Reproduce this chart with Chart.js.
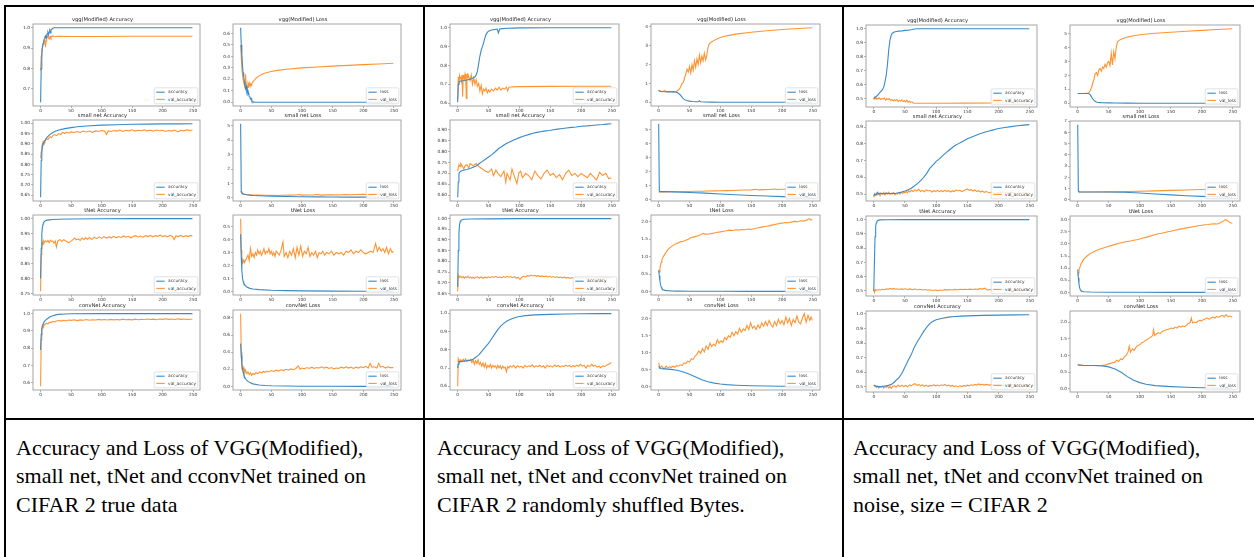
<!DOCTYPE html>
<html>
<head>
<meta charset="utf-8">
<script src="https://cdn.jsdelivr.net/npm/chart.js@4.4.0/dist/chart.umd.min.js"></script>
<style>
  body { margin: 0; background: #fff; width: 1254px; height: 557px; overflow: hidden; position: relative; }
  .rule { position: absolute; background: #000; }
  .cap { position: absolute; top: 434px; font-family: "Liberation Serif", "Times New Roman", serif; font-size: 22px; line-height: 28.3px; color: #000; white-space: nowrap; }
  canvas { position: absolute; }
</style>
</head>
<body>
<div class="rule" style="left:4px;top:5px;width:1250px;height:2px"></div>
<div class="rule" style="left:4px;top:5px;width:2px;height:552px"></div>
<div class="rule" style="left:423px;top:5px;width:2px;height:552px"></div>
<div class="rule" style="left:842px;top:5px;width:2px;height:552px"></div>
<div class="rule" style="left:4px;top:418px;width:1250px;height:2px"></div>

<div class="cap" style="left:16px">Accuracy and Loss of VGG(Modified),<br>small net, tNet and cconvNet trained on<br>CIFAR 2 true data</div>
<div class="cap" style="left:437px">Accuracy and Loss of VGG(Modified),<br>small net, tNet and cconvNet trained on<br>CIFAR 2 randomly shuffled Bytes.</div>
<div class="cap" style="left:853px">Accuracy and Loss of VGG(Modified),<br>small net, tNet and cconvNet trained on<br>noise, size = CIFAR 2</div>

<script>
// [epoch, value] pairs

// ---- CIFAR 2 true data ----
const trueVggAcc = [[0,.635],[1,.80],[2,.87],[3,.90],[4,.92],[5,.935],[6,.945],[7,.955],[8,.96],[9,.95],[10,.965],[11,.97],[12,.975],[13,.965],[14,.98],[15,.985],[16,.975],[17,.99],[18,.99],[19,.995],[20,.998],[22,1],[50,1],[100,1],[150,1],[200,1],[249,1]];
const trueVggValAcc = [[0,.79],[1,.86],[2,.89],[3,.91],[4,.925],[5,.93],[6,.935],[7,.94],[8,.905],[9,.935],[10,.95],[11,.955],[12,.96],[13,.95],[14,.945],[15,.955],[16,.958],[17,.95],[18,.957],[20,.96],[22,.958],[25,.957],[30,.958],[50,.957],[100,.957],[150,.958],[200,.958],[249,.958]];
const trueVggLoss = [[0,.65],[1,.5],[2,.4],[3,.32],[4,.26],[5,.22],[6,.18],[7,.15],[8,.12],[9,.14],[10,.09],[11,.11],[12,.07],[13,.08],[14,.05],[15,.045],[16,.03],[17,.035],[18,.015],[19,.01],[20,.003],[22,.001],[30,0],[249,0]];
const trueVggValLoss = [[0,.5],[1,.4],[2,.3],[3,.24],[4,.2],[5,.18],[6,.15],[7,.13],[8,.245],[9,.15],[10,.14],[11,.13],[12,.16],[13,.14],[14,.17],[15,.15],[16,.16],[17,.145],[18,.16],[20,.18],[22,.19],[25,.21],[30,.23],[35,.245],[40,.255],[50,.268],[60,.278],[75,.288],[100,.3],[125,.308],[150,.315],[175,.322],[200,.328],[225,.334],[249,.34]];

const trueSmallAcc = [[0,.64],[1,.82],[2,.865],[3,.885],[4,.9],[5,.905],[7,.915],[10,.93],[15,.945],[20,.955],[25,.962],[30,.967],[40,.974],[50,.979],[60,.983],[75,.987],[100,.991],[125,.993],[150,.995],[175,.996],[200,.997],[225,.997],[249,.998]];
const trueSmallValAcc = [[0,.83],[1,.86],[2,.885],[3,.9],[4,.91],[5,.905],[6,.915],[7,.91],[8,.92],[10,.925],[12,.92],[14,.93],[16,.935],[18,.93],[20,.94],[23,.945],[26,.94],[30,.95],[33,.945],[36,.955],[40,.95],[43,.957],[46,.952],[50,.958],[55,.955],[60,.96],[65,.955],[70,.962],[75,.958],[80,.962],[85,.956],[90,.963],[95,.96],[100,.965],[105,.962],[108,.945],[111,.964],[115,.96],[120,.965],[125,.962],[130,.967],[135,.96],[140,.966],[145,.963],[150,.968],[155,.962],[160,.966],[165,.964],[170,.968],[175,.963],[180,.966],[185,.962],[190,.967],[195,.964],[200,.966],[205,.96],[210,.965],[215,.962],[220,.967],[225,.958],[230,.966],[235,.963],[240,.968],[245,.965],[249,.967]];
const trueSmallLoss = [[0,5.15],[1,.45],[2,.36],[3,.31],[5,.27],[8,.24],[10,.22],[15,.19],[20,.17],[30,.15],[40,.13],[50,.12],[75,.1],[100,.08],[125,.07],[150,.06],[175,.055],[200,.05],[225,.045],[249,.04]];
const trueSmallValLoss = [[0,.45],[1,.38],[2,.33],[3,.3],[5,.26],[8,.23],[10,.22],[15,.21],[20,.2],[25,.19],[30,.19],[40,.18],[50,.18],[60,.17],[70,.18],[80,.19],[90,.2],[95,.23],[100,.19],[110,.2],[120,.21],[125,.24],[130,.19],[140,.21],[150,.22],[160,.2],[170,.24],[180,.22],[190,.24],[200,.25],[210,.23],[220,.27],[230,.25],[240,.28],[249,.3]];

const trueTNetAcc = [[0,.8],[1,.9],[2,.95],[3,.972],[4,.982],[5,.987],[6,.99],[8,.993],[10,.995],[15,.996],[20,.997],[30,.998],[50,.999],[100,.9995],[150,1],[200,1],[249,1]];
const trueTNetValAcc = [[0,.757],[1,.88],[2,.905],[3,.92],[4,.915],[5,.925],[6,.92],[8,.926],[10,.922],[12,.927],[14,.92],[16,.928],[18,.924],[20,.925],[22,.918],[24,.925],[26,.905],[28,.925],[30,.928],[32,.93],[35,.924],[38,.93],[41,.926],[44,.922],[47,.92],[50,.925],[53,.93],[56,.935],[59,.929],[62,.932],[65,.927],[68,.935],[71,.93],[74,.936],[77,.931],[80,.937],[84,.93],[88,.938],[92,.933],[96,.939],[100,.934],[104,.94],[108,.935],[112,.939],[116,.936],[120,.941],[124,.936],[128,.94],[132,.937],[136,.942],[140,.938],[144,.941],[148,.936],[152,.94],[156,.943],[160,.939],[164,.942],[168,.938],[172,.943],[176,.94],[180,.944],[184,.939],[188,.943],[192,.941],[196,.945],[200,.94],[204,.943],[208,.939],[212,.944],[216,.941],[219,.93],[222,.942],[226,.94],[230,.944],[234,.939],[238,.943],[242,.94],[246,.944],[249,.942]];
const trueTNetLoss = [[0,.44],[1,.26],[2,.16],[3,.11],[4,.08],[5,.065],[7,.05],[10,.035],[15,.025],[20,.02],[30,.015],[50,.01],[75,.008],[100,.006],[150,.004],[200,.003],[249,.002]];
const trueTNetValLoss = [[0,.56],[1,.32],[2,.25],[3,.22],[4,.23],[5,.25],[6,.22],[8,.24],[10,.26],[12,.28],[14,.24],[16,.33],[18,.27],[20,.29],[22,.26],[24,.3],[26,.28],[28,.32],[30,.29],[32,.31],[34,.28],[36,.3],[38,.33],[40,.29],[42,.31],[44,.3],[46,.33],[48,.29],[50,.31],[52,.28],[54,.3],[56,.27],[58,.31],[60,.3],[63,.28],[66,.32],[69,.38],[71,.27],[74,.3],[77,.26],[80,.31],[83,.28],[86,.33],[89,.26],[92,.34],[95,.28],[98,.35],[101,.27],[104,.31],[107,.29],[110,.34],[113,.27],[116,.3],[119,.28],[122,.31],[125,.26],[128,.3],[131,.29],[134,.31],[137,.28],[140,.3],[144,.29],[148,.31],[152,.28],[156,.3],[160,.29],[164,.3],[168,.28],[172,.31],[176,.3],[180,.32],[184,.29],[188,.31],[192,.3],[196,.32],[200,.3],[204,.29],[208,.3],[212,.31],[216,.3],[220,.37],[223,.31],[226,.34],[229,.31],[232,.33],[235,.3],[238,.34],[241,.29],[244,.33],[247,.3],[249,.31]];

const trueConvAcc = [[0,.79],[1,.88],[2,.915],[3,.93],[4,.94],[5,.948],[7,.958],[10,.968],[15,.98],[20,.988],[25,.993],[30,.996],[40,.998],[50,.999],[100,1],[150,1],[200,1],[249,1]];
const trueConvValAcc = [[0,.58],[1,.85],[2,.905],[3,.92],[4,.93],[5,.925],[6,.935],[8,.94],[10,.945],[12,.94],[14,.95],[17,.948],[20,.955],[23,.952],[26,.958],[30,.96],[34,.957],[38,.962],[42,.958],[46,.963],[50,.961],[55,.965],[60,.96],[65,.964],[70,.962],[75,.966],[80,.962],[85,.965],[90,.963],[95,.967],[100,.964],[105,.966],[110,.963],[115,.967],[120,.964],[125,.966],[130,.964],[135,.968],[140,.965],[145,.967],[150,.964],[155,.968],[160,.965],[165,.967],[170,.966],[175,.969],[180,.966],[185,.968],[190,.965],[195,.969],[200,.967],[205,.97],[210,.967],[215,.969],[220,.966],[225,.97],[230,.967],[235,.969],[240,.966],[245,.968],[249,.968]];
const trueConvLoss = [[0,.5],[1,.36],[2,.27],[3,.21],[4,.17],[5,.14],[7,.1],[10,.07],[15,.045],[20,.03],[30,.017],[40,.011],[50,.008],[75,.005],[100,.003],[150,.002],[200,.001],[249,.001]];
const trueConvValLoss = [[0,.85],[1,.4],[2,.21],[3,.19],[4,.22],[5,.17],[6,.2],[7,.16],[8,.19],[10,.15],[12,.17],[14,.14],[16,.16],[18,.13],[20,.15],[22,.14],[25,.16],[28,.15],[31,.17],[34,.16],[37,.175],[40,.165],[43,.18],[46,.17],[50,.185],[54,.175],[58,.19],[62,.18],[66,.195],[70,.185],[74,.2],[78,.19],[82,.205],[86,.195],[90,.21],[94,.24],[97,.2],[100,.215],[104,.205],[108,.22],[112,.21],[116,.225],[120,.21],[124,.22],[128,.215],[132,.23],[136,.215],[140,.225],[144,.21],[148,.22],[152,.205],[156,.215],[160,.21],[164,.225],[168,.215],[172,.23],[176,.215],[180,.225],[184,.21],[188,.225],[192,.215],[196,.23],[200,.22],[204,.235],[208,.215],[211,.27],[214,.225],[218,.23],[222,.215],[225,.27],[228,.225],[232,.235],[236,.215],[240,.23],[244,.22],[249,.22]];

// ---- CIFAR 2 randomly shuffled bytes ----
const shufVggAcc = [[0,.605],[1,.7],[2,.71],[3,.715],[5,.718],[10,.72],[15,.723],[20,.727],[25,.733],[28,.74],[30,.75],[32,.77],[34,.81],[36,.85],[38,.88],[40,.9],[42,.92],[44,.945],[46,.965],[48,.975],[50,.982],[55,.988],[60,.991],[64,.993],[66,.972],[68,.993],[72,.995],[80,.997],[90,.998],[100,.999],[150,1],[200,1],[249,1]];
const shufVggValAcc = [[0,.62],[1,.74],[2,.7],[3,.745],[4,.73],[5,.74],[6,.72],[7,.75],[8,.635],[9,.745],[10,.75],[11,.73],[12,.755],[13,.74],[14,.625],[15,.75],[16,.755],[17,.735],[18,.74],[20,.72],[22,.75],[24,.7],[26,.735],[28,.7],[30,.725],[32,.69],[34,.705],[36,.665],[38,.695],[40,.65],[42,.675],[44,.665],[46,.68],[48,.655],[50,.67],[52,.66],[55,.675],[58,.665],[61,.68],[64,.67],[67,.685],[70,.67],[73,.68],[76,.675],[79,.685],[81,.665],[83,.684],[86,.686],[100,.688],[150,.689],[200,.69],[249,.69]];
const shufVggLoss = [[0,.65],[1,.6],[5,.57],[10,.56],[20,.55],[27,.55],[30,.52],[33,.45],[36,.35],[39,.22],[42,.14],[45,.09],[50,.06],[55,.04],[60,.03],[64,.025],[66,.08],[68,.025],[75,.015],[85,.01],[100,.005],[150,.002],[249,0]];
const shufVggValLoss = [[0,.62],[3,.58],[5,.55],[8,.6],[10,.62],[13,.55],[15,.57],[18,.55],[20,.58],[23,.55],[25,.56],[28,.57],[30,.6],[32,.65],[34,.72],[36,.85],[38,1],[40,1.05],[42,1.3],[44,1.5],[46,1.75],[48,1.6],[50,1.9],[52,1.55],[54,2],[56,1.7],[58,2.2],[60,1.85],[62,2.3],[64,2],[66,2.5],[68,2.1],[70,2.45],[72,2.2],[74,2.6],[76,2.25],[78,2.5],[80,2.9],[82,3.1],[85,3.18],[90,3.28],[95,3.36],[100,3.43],[110,3.52],[125,3.61],[150,3.71],[175,3.79],[200,3.86],[225,3.91],[249,3.95]];

const shufSmallAcc = [[0,.59],[1,.66],[2,.695],[3,.705],[5,.71],[9,.714],[15,.718],[20,.722],[25,.728],[31,.735],[35,.745],[40,.755],[45,.765],[50,.775],[55,.785],[60,.797],[63,.805],[67,.815],[71,.822],[75,.83],[79,.837],[85,.845],[90,.852],[95,.858],[100,.864],[105,.869],[110,.874],[116,.879],[122,.884],[128,.888],[134,.891],[140,.894],[149,.897],[155,.9],[162,.903],[170,.906],[176,.908],[185,.911],[192,.913],[200,.916],[210,.918],[217,.92],[225,.922],[235,.924],[242,.926],[249,.928]];
const shufSmallValAcc = [[0,.71],[2,.74],[4,.73],[5,.745],[8,.73],[10,.72],[12,.735],[15,.74],[18,.725],[20,.745],[25,.735],[30,.745],[35,.73],[40,.72],[45,.71],[50,.705],[55,.72],[58,.69],[62,.715],[65,.7],[70,.685],[75,.71],[78,.66],[80,.7],[85,.67],[88,.72],[92,.685],[96,.652],[99,.7],[102,.71],[105,.68],[110,.7],[115,.69],[120,.67],[125,.71],[130,.69],[135,.675],[140,.7],[145,.715],[150,.69],[155,.7],[160,.68],[165,.695],[170,.67],[175,.7],[180,.715],[185,.69],[190,.7],[195,.685],[200,.7],[205,.69],[210,.68],[215,.7],[220,.685],[225,.67],[230,.705],[235,.69],[240,.7],[245,.675],[249,.68]];
const shufSmallLoss = [[0,5.45],[1,.65],[2,.6],[5,.59],[10,.585],[25,.57],[50,.53],[75,.48],[100,.42],[125,.36],[150,.31],[175,.27],[200,.23],[225,.2],[249,.18]];
const shufSmallValLoss = [[0,.55],[2,.57],[5,.58],[10,.57],[20,.58],[30,.58],[40,.59],[50,.6],[60,.61],[70,.61],[80,.63],[90,.64],[100,.65],[110,.66],[120,.67],[130,.69],[140,.7],[150,.71],[158,.76],[162,.71],[170,.73],[180,.74],[188,.78],[192,.74],[200,.76],[210,.77],[220,.76],[230,.78],[240,.77],[249,.76]];

const shufTNetAcc = [[0,.68],[1,.85],[2,.93],[3,.97],[4,.985],[5,.99],[7,.994],[10,.996],[20,.997],[50,.998],[100,.999],[150,.999],[200,.999],[249,.999]];
const shufTNetValAcc = [[0,.66],[1,.735],[2,.73],[3,.725],[5,.73],[7,.724],[9,.729],[11,.722],[13,.728],[15,.725],[17,.73],[19,.723],[21,.727],[23,.721],[25,.726],[27,.72],[29,.725],[32,.728],[35,.722],[38,.727],[41,.721],[44,.726],[47,.723],[50,.728],[53,.724],[56,.729],[59,.725],[62,.73],[65,.724],[68,.728],[71,.723],[74,.729],[77,.725],[80,.73],[83,.726],[86,.729],[89,.724],[92,.728],[95,.722],[98,.725],[101,.716],[104,.726],[107,.73],[110,.727],[113,.733],[116,.731],[119,.736],[122,.732],[125,.735],[128,.73],[131,.733],[134,.729],[137,.732],[140,.728],[143,.731],[146,.727],[149,.73],[152,.726],[155,.729],[158,.725],[161,.728],[164,.724],[167,.727],[170,.723],[173,.726],[176,.722],[179,.725],[182,.72],[185,.724],[188,.721],[191,.725],[194,.72],[197,.723],[200,.72],[210,.722],[220,.72],[230,.722],[240,.724],[249,.724]];
const shufTNetLoss = [[0,.6],[1,.45],[2,.3],[3,.2],[4,.13],[5,.09],[7,.05],[10,.03],[15,.02],[20,.015],[30,.01],[50,.006],[100,.004],[150,.003],[200,.002],[249,.002]];
const shufTNetValLoss = [[0,.62],[1,.55],[2,.65],[3,.75],[4,.83],[5,.9],[7,.98],[10,1.07],[13,1.15],[16,1.22],[20,1.28],[24,1.33],[28,1.37],[32,1.4],[36,1.43],[40,1.44],[44,1.47],[48,1.5],[52,1.54],[56,1.56],[60,1.58],[64,1.6],[68,1.63],[72,1.67],[76,1.64],[80,1.65],[85,1.66],[90,1.68],[95,1.7],[100,1.71],[105,1.73],[110,1.74],[115,1.76],[120,1.75],[125,1.77],[130,1.76],[135,1.78],[140,1.77],[145,1.79],[150,1.78],[155,1.8],[160,1.82],[165,1.84],[170,1.86],[175,1.87],[180,1.89],[185,1.91],[190,1.93],[195,1.95],[200,1.96],[205,1.98],[210,1.97],[215,1.99],[220,2.01],[225,2],[230,2.03],[235,2.02],[240,2.05],[244,2.09],[247,2.05],[249,2.06]];

const shufConvAcc = [[0,.7],[1,.72],[2,.735],[5,.735],[10,.738],[15,.74],[20,.742],[25,.748],[30,.76],[35,.775],[40,.795],[45,.815],[50,.835],[55,.86],[60,.885],[65,.91],[70,.93],[75,.945],[80,.957],[85,.965],[90,.972],[95,.977],[100,.981],[110,.986],[125,.99],[150,.993],[175,.995],[200,.996],[225,.997],[249,.997]];
const shufConvValAcc = [[0,.6],[1,.75],[2,.74],[3,.73],[5,.745],[7,.735],[9,.748],[11,.738],[13,.75],[15,.735],[17,.745],[19,.74],[21,.748],[23,.73],[25,.745],[27,.72],[29,.74],[31,.725],[33,.745],[35,.72],[37,.73],[39,.71],[41,.728],[43,.705],[45,.725],[47,.7],[49,.715],[51,.705],[53,.72],[55,.7],[57,.715],[59,.705],[61,.712],[63,.698],[65,.715],[67,.7],[69,.712],[71,.695],[73,.71],[75,.7],[77,.705],[79,.68],[81,.708],[83,.7],[85,.712],[88,.705],[91,.715],[94,.7],[97,.712],[100,.705],[103,.71],[106,.7],[109,.715],[112,.705],[115,.712],[118,.708],[121,.718],[124,.705],[127,.712],[130,.708],[133,.715],[136,.705],[139,.712],[142,.7],[145,.715],[148,.708],[151,.712],[154,.705],[157,.716],[160,.708],[163,.714],[166,.705],[169,.712],[172,.708],[175,.716],[178,.71],[181,.714],[184,.705],[187,.713],[190,.708],[193,.716],[196,.71],[199,.72],[202,.71],[205,.714],[208,.7],[211,.715],[214,.708],[217,.72],[220,.71],[223,.715],[226,.705],[229,.71],[232,.702],[235,.712],[238,.708],[241,.716],[244,.72],[247,.725],[249,.73]];
const shufConvLoss = [[0,.6],[2,.53],[10,.52],[20,.505],[30,.48],[40,.43],[50,.36],[60,.28],[70,.2],[80,.14],[90,.1],[100,.075],[110,.055],[125,.04],[150,.025],[175,.015],[200,.01],[225,.007],[249,.005]];
const shufConvValLoss = [[0,.7],[2,.55],[5,.6],[8,.52],[10,.55],[12,.6],[15,.55],[18,.58],[20,.56],[23,.6],[26,.57],[29,.62],[32,.6],[35,.64],[38,.62],[41,.7],[44,.68],[47,.75],[50,.72],[53,.82],[56,.8],[59,.9],[62,.95],[65,1.05],[68,.98],[71,1.12],[74,1.02],[77,1.2],[80,1.1],[83,1.28],[86,1.18],[89,1.25],[92,1.2],[95,1.38],[98,1.28],[101,1.35],[104,1.3],[107,1.45],[110,1.38],[113,1.5],[116,1.45],[119,1.6],[122,1.5],[125,1.62],[128,1.55],[131,1.72],[134,1.6],[137,1.7],[140,1.65],[143,1.8],[146,1.68],[149,1.88],[152,1.72],[155,1.78],[158,1.68],[161,1.82],[164,1.72],[167,1.88],[170,1.78],[173,1.92],[176,1.8],[179,1.95],[182,1.82],[185,1.75],[188,1.92],[191,1.8],[194,1.98],[197,1.85],[200,1.95],[203,1.82],[206,2.05],[209,1.88],[212,2],[215,1.8],[218,1.98],[221,1.88],[224,2.08],[227,1.9],[230,1.85],[233,2.02],[236,2.15],[239,1.9],[242,2.1],[245,1.95],[247,2.05],[249,1.95]];

// ---- noise, size = CIFAR 2 ----
const noiseVggAcc = [[0,.5],[2,.51],[5,.52],[8,.535],[10,.545],[12,.555],[14,.565],[16,.585],[18,.62],[20,.67],[22,.75],[24,.85],[26,.92],[28,.955],[30,.97],[33,.977],[36,.98],[40,.983],[45,.985],[50,.988],[55,.99],[60,.993],[65,.998],[70,1],[100,1],[150,1],[200,1],[249,1]];
const noiseVggValAcc = [[0,.495],[1,.51],[2,.5],[3,.505],[4,.497],[5,.505],[7,.5],[9,.507],[11,.495],[13,.503],[15,.498],[17,.505],[19,.49],[21,.5],[23,.495],[25,.502],[27,.488],[29,.495],[31,.485],[33,.493],[35,.487],[37,.495],[39,.48],[41,.49],[43,.483],[45,.492],[47,.48],[49,.487],[51,.478],[53,.49],[55,.476],[57,.482],[59,.474],[61,.478],[63,.47],[65,.468],[80,.468],[100,.468],[150,.469],[200,.47],[249,.47]];
const noiseVggLoss = [[0,.7],[5,.7],[10,.7],[15,.7],[18,.69],[20,.62],[22,.48],[24,.33],[26,.22],[28,.14],[30,.09],[33,.06],[36,.05],[40,.04],[50,.03],[60,.02],[80,.01],[100,.005],[150,.002],[249,.001]];
const noiseVggValLoss = [[0,.7],[5,.7],[10,.7],[15,.71],[18,.76],[20,.9],[22,1.1],[24,1.4],[26,1.7],[28,2.1],[30,2.2],[32,2],[34,2.4],[36,2.5],[38,2.3],[40,2.6],[42,2.5],[44,2.8],[46,2.6],[48,2.9],[50,3],[52,2.7],[54,3.6],[56,2.75],[58,3.7],[60,3.2],[62,4],[64,4.4],[66,4.5],[70,4.6],[80,4.75],[90,4.85],[100,4.92],[125,5.02],[150,5.1],[175,5.17],[200,5.23],[225,5.29],[249,5.35]];

const noiseSmallAcc = [[0,.49],[2,.5],[4,.495],[6,.51],[8,.5],[10,.505],[15,.5],[20,.505],[25,.502],[30,.505],[35,.503],[40,.508],[45,.512],[50,.518],[55,.525],[60,.535],[65,.548],[70,.562],[75,.58],[80,.6],[85,.625],[90,.655],[95,.675],[100,.695],[105,.71],[110,.728],[115,.745],[120,.76],[125,.775],[130,.79],[135,.8],[140,.81],[145,.82],[150,.83],[155,.838],[160,.846],[165,.853],[170,.86],[175,.866],[180,.872],[185,.877],[190,.882],[195,.887],[200,.892],[210,.898],[220,.903],[230,.908],[240,.912],[249,.915]];
const noiseSmallValAcc = [[0,.48],[1,.5],[2,.49],[4,.505],[6,.495],[8,.5],[10,.49],[12,.505],[14,.5],[16,.51],[18,.495],[20,.505],[22,.5],[24,.51],[26,.498],[28,.505],[30,.5],[32,.508],[34,.495],[36,.505],[38,.5],[40,.51],[42,.5],[44,.512],[46,.505],[48,.51],[50,.508],[52,.515],[54,.508],[56,.52],[58,.512],[60,.522],[63,.515],[66,.525],[69,.518],[72,.528],[75,.515],[78,.522],[81,.514],[84,.525],[87,.518],[90,.522],[93,.512],[96,.52],[99,.515],[102,.522],[105,.514],[108,.52],[111,.515],[114,.522],[117,.516],[120,.52],[123,.512],[126,.52],[129,.515],[132,.525],[135,.518],[138,.522],[141,.515],[144,.52],[147,.525],[150,.53],[153,.522],[156,.526],[159,.518],[162,.524],[165,.516],[168,.52],[171,.512],[174,.518],[177,.51],[180,.515],[185,.508],[190,.512],[195,.505],[200,.51],[210,.508],[220,.51],[230,.505],[240,.51],[249,.508]];
const noiseSmallLoss = [[0,6.7],[1,.8],[2,.72],[5,.7],[25,.7],[50,.695],[75,.67],[100,.61],[125,.52],[150,.44],[175,.37],[200,.31],[225,.26],[249,.22]];
const noiseSmallValLoss = [[0,.72],[5,.7],[25,.7],[50,.71],[75,.73],[100,.76],[125,.8],[150,.84],[175,.88],[200,.92],[225,.96],[249,1]];

const noiseTNetAcc = [[0,.5],[1,.7],[2,.88],[3,.95],[4,.978],[5,.988],[7,.995],[10,.998],[20,.999],[50,1],[100,1],[150,1],[200,1],[249,1]];
const noiseTNetValAcc = [[0,.51],[1,.49],[2,.505],[3,.51],[5,.505],[8,.51],[11,.507],[14,.512],[17,.509],[20,.514],[23,.511],[26,.518],[29,.513],[32,.516],[35,.512],[38,.515],[41,.51],[44,.514],[47,.511],[50,.515],[54,.51],[58,.514],[62,.509],[66,.513],[70,.508],[74,.512],[78,.507],[82,.51],[86,.505],[90,.508],[94,.503],[98,.506],[102,.502],[106,.507],[110,.505],[114,.509],[118,.506],[122,.51],[126,.507],[130,.511],[134,.508],[138,.512],[142,.509],[146,.512],[150,.51],[154,.513],[158,.51],[162,.514],[166,.511],[170,.516],[174,.513],[178,.519],[182,.505],[186,.51],[190,.506],[195,.51],[200,.508],[210,.51],[220,.508],[230,.51],[240,.509],[249,.51]];
const noiseTNetLoss = [[0,.95],[1,.6],[2,.35],[3,.2],[4,.12],[5,.08],[7,.05],[10,.03],[20,.02],[50,.01],[100,.005],[150,.004],[200,.003],[249,.003]];
const noiseTNetValLoss = [[0,.7],[1,.8],[2,.9],[3,1],[5,1.15],[8,1.3],[10,1.38],[15,1.5],[20,1.6],[25,1.67],[30,1.73],[35,1.78],[40,1.82],[45,1.86],[50,1.9],[55,1.94],[60,1.98],[65,2.02],[70,2.05],[75,2.08],[80,2.1],[85,2.12],[90,2.15],[95,2.17],[100,2.2],[105,2.24],[110,2.27],[115,2.31],[120,2.35],[125,2.39],[130,2.42],[135,2.44],[140,2.47],[145,2.5],[150,2.52],[155,2.55],[160,2.58],[165,2.61],[170,2.63],[175,2.66],[180,2.68],[185,2.71],[190,2.73],[195,2.75],[200,2.77],[205,2.79],[210,2.8],[215,2.82],[220,2.83],[225,2.82],[230,2.87],[235,2.95],[238,3],[241,2.97],[244,2.9],[247,2.86],[249,2.85]];

const noiseConvAcc = [[0,.51],[5,.5],[10,.5],[15,.502],[20,.505],[25,.51],[30,.52],[35,.54],[40,.56],[45,.59],[50,.635],[55,.68],[60,.72],[65,.77],[70,.81],[75,.845],[80,.88],[85,.91],[90,.935],[95,.95],[100,.96],[110,.97],[120,.978],[130,.982],[140,.985],[150,.987],[175,.99],[200,.992],[225,.994],[249,.995]];
const noiseConvValAcc = [[0,.5],[2,.505],[4,.495],[6,.505],[8,.49],[10,.5],[12,.495],[14,.505],[16,.49],[18,.5],[20,.495],[22,.505],[24,.49],[26,.5],[28,.488],[30,.5],[33,.505],[36,.495],[39,.51],[42,.5],[45,.51],[48,.5],[51,.508],[54,.498],[57,.512],[60,.505],[63,.515],[66,.52],[69,.508],[72,.515],[75,.505],[78,.512],[81,.502],[84,.51],[87,.5],[90,.508],[93,.505],[96,.512],[99,.505],[102,.51],[105,.504],[108,.512],[111,.508],[114,.515],[117,.505],[120,.51],[123,.502],[126,.508],[129,.5],[132,.505],[135,.498],[138,.505],[141,.5],[144,.508],[147,.502],[150,.51],[153,.505],[156,.512],[159,.508],[162,.515],[165,.51],[168,.518],[171,.512],[174,.516],[177,.51],[180,.515],[185,.51],[190,.514],[195,.51],[200,.512],[210,.51],[220,.512],[230,.51],[240,.512],[249,.51]];
const noiseConvLoss = [[0,.72],[10,.7],[25,.7],[40,.69],[50,.66],[60,.6],[70,.5],[80,.37],[90,.26],[100,.19],[110,.14],[125,.1],[150,.07],[175,.05],[200,.035],[225,.025],[249,.02]];
const noiseConvValLoss = [[0,.72],[10,.7],[20,.7],[30,.7],[40,.71],[45,.72],[50,.75],[55,.78],[60,.8],[63,.86],[66,.82],[69,.9],[72,.88],[75,.95],[78,1],[81,1.1],[83,1.28],[85,1.1],[88,1.2],[91,1.15],[94,1.25],[97,1.3],[100,1.32],[103,1.38],[106,1.4],[109,1.45],[112,1.48],[115,1.52],[118,1.55],[121,1.6],[122,1.77],[124,1.6],[127,1.65],[130,1.68],[133,1.66],[136,1.72],[139,1.74],[142,1.76],[145,1.78],[148,1.8],[151,1.82],[154,1.8],[157,1.85],[160,1.82],[163,1.88],[166,1.85],[169,1.88],[172,1.86],[175,1.9],[178,1.96],[181,1.98],[183,2.12],[185,1.97],[188,2],[191,1.98],[194,2.03],[197,2.05],[200,2.04],[203,2.08],[206,2.1],[209,2.12],[212,2.08],[215,2.13],[218,2.15],[221,2.12],[224,2.17],[227,2.14],[230,2.18],[233,2.2],[236,2.15],[239,2.22],[242,2.16],[245,2.18],[249,2.15]];

const ACC_LABELS = ['accuracy', 'val_accuracy'];
const LOSS_LABELS = ['loss', 'val_loss'];
const X_TICKS = [0, 50, 100, 150, 200, 250];

// one entry per column of the table: [title, train, val, y step, decimals]
const COLUMNS = [
  [
    ['vgg(Modified) Accuracy', trueVggAcc, trueVggValAcc, 0.1, 1], ['vgg(Modified) Loss', trueVggLoss, trueVggValLoss, 0.1, 1],
    ['small net Accuracy', trueSmallAcc, trueSmallValAcc, 0.05, 2], ['small net Loss', trueSmallLoss, trueSmallValLoss, 1, 0],
    ['tNet Accuracy', trueTNetAcc, trueTNetValAcc, 0.05, 2], ['tNet Loss', trueTNetLoss, trueTNetValLoss, 0.1, 1],
    ['convNet Accuracy', trueConvAcc, trueConvValAcc, 0.1, 1], ['convNet Loss', trueConvLoss, trueConvValLoss, 0.2, 1]
  ],
  [
    ['vgg(Modified) Accuracy', shufVggAcc, shufVggValAcc, 0.1, 1], ['vgg(Modified) Loss', shufVggLoss, shufVggValLoss, 1, 0],
    ['small net Accuracy', shufSmallAcc, shufSmallValAcc, 0.05, 2], ['small net Loss', shufSmallLoss, shufSmallValLoss, 1, 0],
    ['tNet Accuracy', shufTNetAcc, shufTNetValAcc, 0.05, 2], ['tNet Loss', shufTNetLoss, shufTNetValLoss, 0.5, 1],
    ['convNet Accuracy', shufConvAcc, shufConvValAcc, 0.1, 1], ['convNet Loss', shufConvLoss, shufConvValLoss, 0.5, 1]
  ],
  [
    ['vgg(Modified) Accuracy', noiseVggAcc, noiseVggValAcc, 0.1, 1], ['vgg(Modified) Loss', noiseVggLoss, noiseVggValLoss, 1, 0],
    ['small net Accuracy', noiseSmallAcc, noiseSmallValAcc, 0.1, 1], ['small net Loss', noiseSmallLoss, noiseSmallValLoss, 1, 0],
    ['tNet Accuracy', noiseTNetAcc, noiseTNetValAcc, 0.1, 1], ['tNet Loss', noiseTNetLoss, noiseTNetValLoss, 0.5, 1],
    ['convNet Accuracy', noiseConvAcc, noiseConvValAcc, 0.1, 1], ['convNet Loss', noiseConvLoss, noiseConvValLoss, 0.5, 1]
  ]
];

// page layout (plot area boxes), not data
const COL_X = [[[33, 167], [233, 168]], [[450, 169], [651, 169]], [[866, 171], [1070, 170]]];
const ROW_Y = [
  [[24, 82], [120, 81], [215, 80], [310, 80]],
  [[24, 82], [120, 81], [215, 80], [310, 80]],
  [[25, 82], [121, 80], [216, 80], [311, 81]]
];
const AX_W = 28, TITLE_H = 11, AX_H = 10, PAD_R = 4;
const BLUE = '#3a8ac8', ORANGE = '#ff9433';
const SMALL = {family: 'DejaVu Sans', size: 4.3};

const framePlugin = {
  id: 'frameAndLegend',
  afterDatasetsDraw(chart) {
    const {ctx, chartArea: a} = chart;
    ctx.save();
    ctx.strokeStyle = '#9c9c9c';
    ctx.lineWidth = 0.9;
    ctx.strokeRect(a.left, a.top, a.right - a.left, a.bottom - a.top);

    // matplotlib style legend, lower right inside the axes
    const sets = chart.data.datasets;
    ctx.font = '4.3px "DejaVu Sans"';
    const tw = Math.max(...sets.map(d => ctx.measureText(d.label).width));
    const pad = 1.8, rowH = 7.2;
    const w = pad + 8.7 + 3.4 + tw + pad;
    const h = pad * 2 + rowH + 5.2;
    const x = a.right - 2.2 - w, y = a.bottom - 2.2 - h;
    ctx.fillStyle = 'rgba(255,255,255,0.85)';
    ctx.strokeStyle = '#cfcfcf';
    ctx.lineWidth = 0.6;
    ctx.beginPath();
    ctx.roundRect(x, y, w, h, 1.2);
    ctx.fill();
    ctx.stroke();
    ctx.textBaseline = 'middle';
    sets.forEach((d, i) => {
      const cy = y + pad + 2.6 + i * rowH;
      ctx.strokeStyle = d.borderColor;
      ctx.lineWidth = 1.1;
      ctx.beginPath();
      ctx.moveTo(x + pad + 0.3, cy);
      ctx.lineTo(x + pad + 8.7, cy);
      ctx.stroke();
      ctx.fillStyle = '#333';
      ctx.fillText(d.label, x + pad + 8.7 + 3.4, cy);
    });
    ctx.restore();
  }
};

function ticksFor(lo, hi, step) {
  const out = [];
  for (let k = Math.ceil(lo / step - 1e-9); k * step <= hi + 1e-9; k++) out.push(+(k * step).toFixed(6));
  return out;
}

COLUMNS.forEach((panels, c) => {
  panels.forEach(([title, train, val, step, dec], i) => {
    const row = Math.floor(i / 2), side = i % 2;
    const [px, pw] = COL_X[c][side];
    const [py, ph] = ROW_Y[c][row];
    const labels = title.endsWith('Loss') ? LOSS_LABELS : ACC_LABELS;

    const ys = train.concat(val).map(p => p[1]);
    const lo = Math.min(...ys), hi = Math.max(...ys), m = (hi - lo) * 0.05;

    const cv = document.createElement('canvas');
    cv.width = pw + AX_W + PAD_R;
    cv.height = ph + TITLE_H + AX_H;
    cv.style.left = (px - AX_W) + 'px';
    cv.style.top = (py - TITLE_H) + 'px';
    document.body.appendChild(cv);

    new Chart(cv, {
      type: 'line',
      data: {
        datasets: [
          {label: labels[0], data: train.map(([x, y]) => ({x, y})), borderColor: BLUE},
          {label: labels[1], data: val.map(([x, y]) => ({x, y})), borderColor: ORANGE}
        ]
      },
      options: {
        responsive: false,
        animation: false,
        devicePixelRatio: 1,
        layout: {padding: {left: 0, right: PAD_R, top: 0, bottom: 0}},
        elements: {line: {borderWidth: 1.1, tension: 0}, point: {radius: 0}},
        plugins: {
          legend: {display: false},
          tooltip: {enabled: false},
          title: {
            display: true, text: title, color: '#222',
            font: {family: 'DejaVu Sans', size: 5.2, weight: 'normal', lineHeight: 1},
            padding: {top: TITLE_H - 5.2 - 2.2, bottom: 2.2}
          }
        },
        scales: {
          x: {
            type: 'linear', min: -12.45, max: 261.45,
            afterBuildTicks: s => { s.ticks = X_TICKS.map(v => ({value: v})); },
            afterFit: s => { s.height = AX_H; },
            ticks: {font: SMALL, color: '#333', padding: 0.5, maxRotation: 0, autoSkip: false},
            grid: {drawOnChartArea: false, tickLength: 2, color: '#666', lineWidth: 0.5},
            border: {display: false}
          },
          y: {
            type: 'linear', min: lo - m, max: hi + m,
            afterBuildTicks: s => { s.ticks = ticksFor(lo - m, hi + m, step).map(v => ({value: v})); },
            afterFit: s => { s.width = AX_W; },
            ticks: {font: SMALL, color: '#333', padding: 1, autoSkip: false, callback: v => v.toFixed(dec)},
            grid: {drawOnChartArea: false, tickLength: 2, color: '#666', lineWidth: 0.5},
            border: {display: false}
          }
        }
      },
      plugins: [framePlugin]
    });
  });
});
</script>
</body>
</html>
